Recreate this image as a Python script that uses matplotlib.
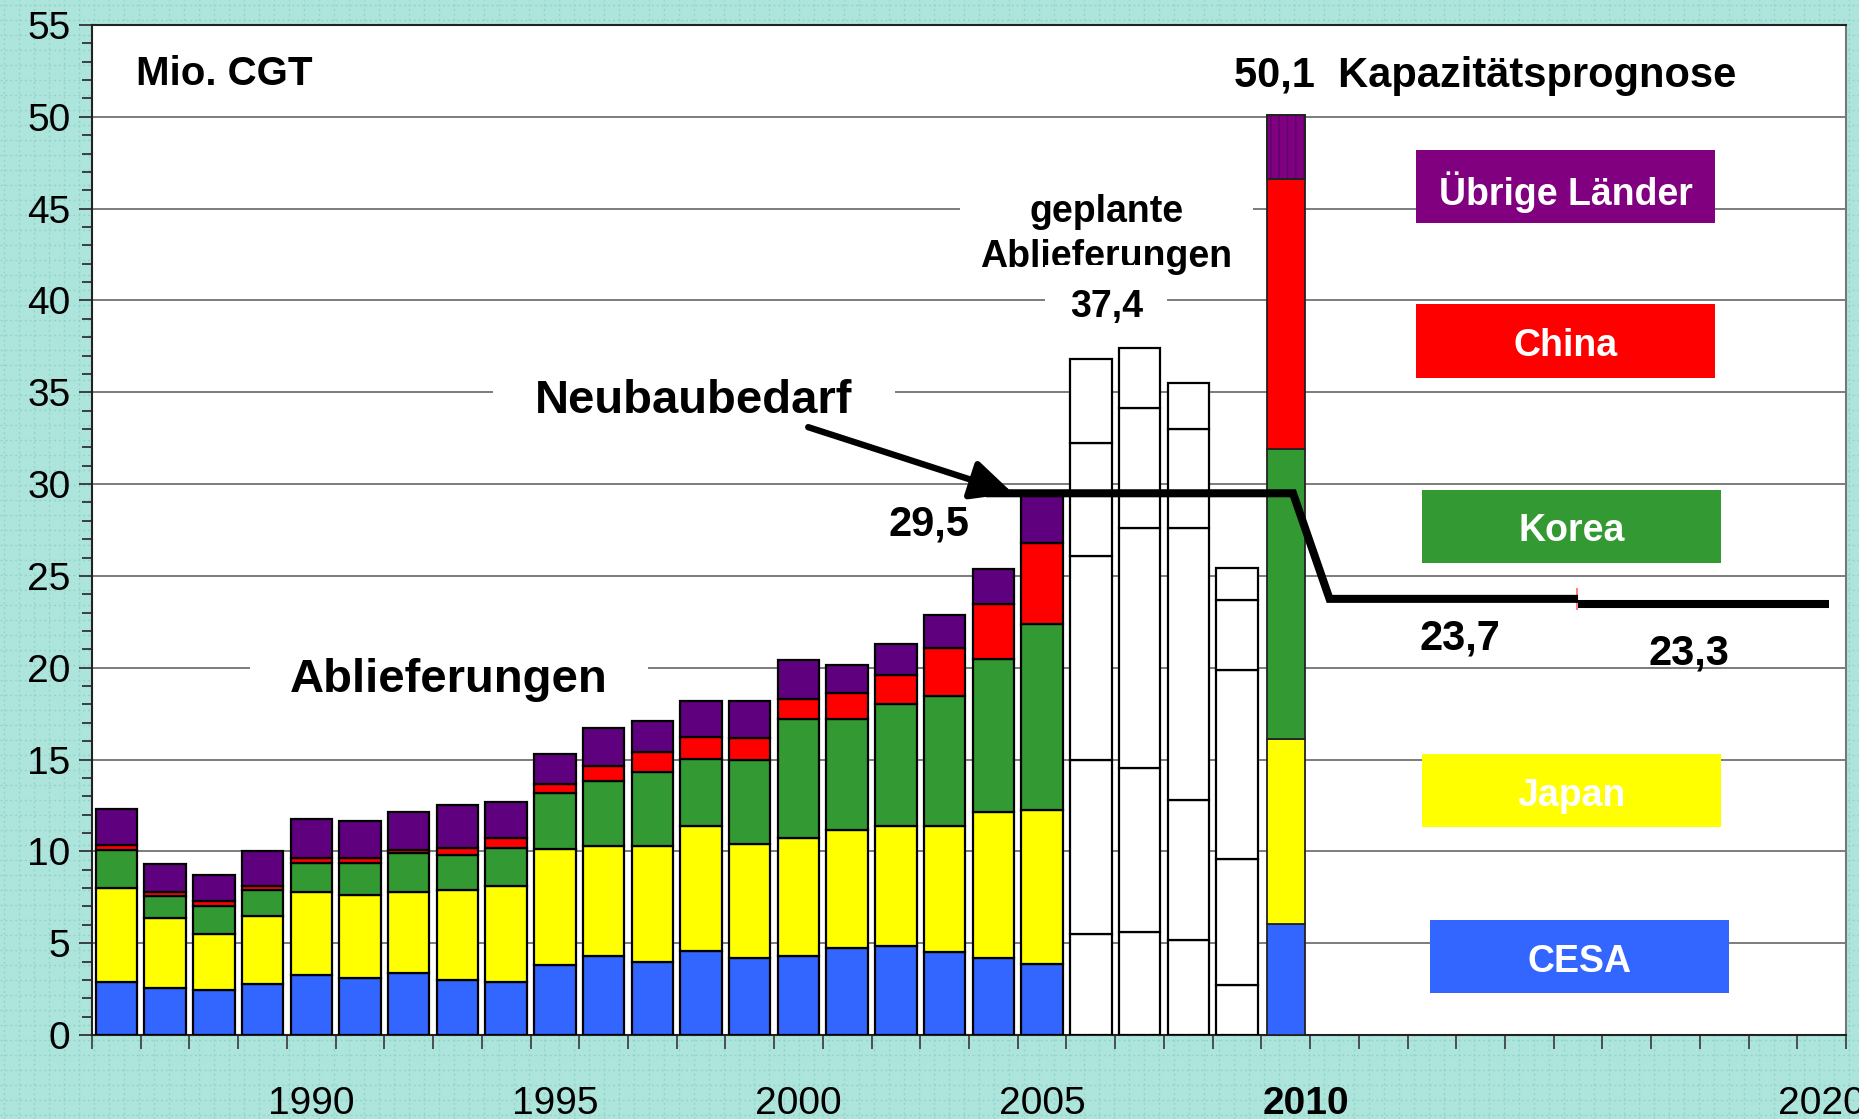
import matplotlib
matplotlib.use('Agg')
import matplotlib.pyplot as plt
from matplotlib.patches import Rectangle
from matplotlib.lines import Line2D
import numpy as np

plt.rcParams['font.family'] = ['Liberation Sans', 'DejaVu Sans']

# ---------------- data ----------------
years = list(range(1986, 2011))
cesa   = [2.9, 2.55, 2.45, 2.8, 3.25, 3.1, 3.35, 3.0, 2.9, 3.8, 4.3, 4.0, 4.6, 4.2, 4.3, 4.75, 4.85, 4.5, 4.2, 3.85,
          5.5, 5.6, 5.15, 2.7, 6.05]
japan  = [5.1, 3.8, 3.05, 3.7, 4.55, 4.5, 4.45, 4.9, 5.2, 6.35, 6.0, 6.3, 6.8, 6.2, 6.45, 6.4, 6.55, 6.9, 7.95, 8.4,
          9.5, 8.95, 7.65, 6.9, 10.05]
korea  = [2.1, 1.2, 1.55, 1.4, 1.55, 1.75, 2.1, 1.9, 2.1, 3.05, 3.55, 4.0, 3.65, 4.6, 6.45, 6.05, 6.65, 7.05, 8.3, 10.15,
          11.1, 13.05, 14.8, 10.25, 15.8]
china  = [0.25, 0.22, 0.22, 0.2, 0.3, 0.3, 0.2, 0.4, 0.55, 0.45, 0.8, 1.1, 1.2, 1.15, 1.1, 1.4, 1.55, 2.6, 3.0, 4.4,
          6.15, 6.55, 5.4, 3.85, 14.7]
others = [1.95, 1.55, 1.45, 1.9, 2.1, 2.0, 2.05, 2.3, 1.95, 1.65, 2.05, 1.7, 1.95, 2.05, 2.1, 1.55, 1.7, 1.8, 1.95, 2.7,
          4.55, 3.25, 2.5, 1.75, 3.5]
planned_years = [2006, 2007, 2008, 2009]
forecast_year = 2010

series_names = ['CESA', 'Japan', 'Korea', 'China', 'Übrige Länder']
hist_colors = ['#3366FF', '#FFFF00', '#339933', '#FF0000', '#5F007F']
fc_colors = ['#3366FF', '#FFFF00', '#339933', '#FF0000', '#800080']

# Neubaubedarf (new-building demand) line
need_x1 = [2003.85, 2010.15, 2010.9, 2016.0]
need_y1 = [29.5, 29.5, 23.75, 23.75]
need_x2 = [2016.0, 2021.15]
need_y2 = [23.45, 23.45]

year_labels = ['1990', '1995', '2000', '2005', '2010', '2020']
year_label_x = [1990, 1995, 2000, 2005, 2010.41, 2021.0]

# ---------------- figure ----------------
W, H = 1859, 1119
bg = '#ADE5DC'
fig = plt.figure(figsize=(W / 100, H / 100), dpi=100, facecolor=bg)

# background dotted grid pattern
for px in np.arange(4, W, 15):
    fig.add_artist(Line2D([px / W, px / W], [0, 1], transform=fig.transFigure,
                          color='#93D4CA', lw=1.0, ls=(0, (1.5, 2.0)), zorder=-10))
for py in np.arange(4, H, 15):
    fig.add_artist(Line2D([0, 1], [py / H, py / H], transform=fig.transFigure,
                          color='#93D4CA', lw=1.0, ls=(0, (1.5, 2.0)), zorder=-10))

ax = fig.add_axes([92 / W, 84 / H, (1846 - 92) / W, (1035 - 25) / H])
ax.set_facecolor('white')
ax.set_xlim(1985.5, 2021.5)
ax.set_ylim(0, 55)

# gridlines
ax.set_yticks(np.arange(0, 56, 5))
ax.set_yticks(np.arange(0, 56, 1), minor=True)
ax.yaxis.grid(True, which='major', color='#666666', lw=1.2, zorder=1)
ax.set_axisbelow(True)
ax.tick_params(axis='y', which='major', length=9.5, width=1.3, color='#333333',
               labelsize=28, pad=6)
ax.tick_params(axis='y', which='minor', length=7, width=1.3, color='#333333')
ax.set_xticks(np.arange(1985.5, 2021.6, 1))
ax.set_xticklabels([])
ax.tick_params(axis='x', which='major', length=10, width=1.3, color='#444444')

for s in ['left', 'bottom', 'top']:
    ax.spines[s].set_color('#222222')
    ax.spines[s].set_linewidth(1.5)
ax.spines['right'].set_color('#777777')
ax.spines['right'].set_linewidth(1.5)

# ---------------- bars ----------------
yrs = np.array(years)
data = np.array([cesa, japan, korea, china, others])
bottoms = np.vstack([np.zeros(len(years)), np.cumsum(data, axis=0)[:-1]])
hist = yrs < planned_years[0]
plan = np.isin(yrs, planned_years)
fc = yrs == forecast_year

for i in range(5):
    ax.bar(yrs[hist], data[i][hist], bottom=bottoms[i][hist], width=0.85,
           color=hist_colors[i], edgecolor='black', linewidth=1.6, zorder=3)
    ax.bar(yrs[plan], data[i][plan], bottom=bottoms[i][plan], width=0.85,
           color='white', edgecolor='black', linewidth=1.6, zorder=3)
    ax.bar(yrs[fc], data[i][fc], bottom=bottoms[i][fc], width=0.78,
           color=fc_colors[i], edgecolor='#222222', linewidth=1.3, zorder=3)
# striped top segment of forecast bar
ax.bar(yrs[fc], data[4][fc], bottom=bottoms[4][fc], width=0.78,
       facecolor='none', edgecolor='#5A0070', hatch='||', linewidth=0, zorder=3.1)
ax.bar(yrs[fc], data[4][fc], bottom=bottoms[4][fc], width=0.78,
       facecolor='none', edgecolor='#222222', linewidth=1.3, zorder=3.2)

# ---------------- demand line ----------------
ax.plot([need_x1[-1] - 0.02, need_x1[-1] - 0.02], [23.2, 24.3], color='#FF8080', lw=1.5, zorder=4.5)
ax.plot(need_x1, need_y1, color='black', lw=5.8, solid_joinstyle='miter', solid_capstyle='butt', zorder=5)
ax.plot(need_x2, need_y2, color='black', lw=5.8, solid_capstyle='butt', zorder=5)
ax.annotate('', xy=(2004.4, need_y1[0]), xytext=(2000.2, 33.1),
            arrowprops=dict(arrowstyle='-|>,head_length=1.15,head_width=0.55', mutation_scale=22,
                            lw=4.6, color='black', shrinkA=0, shrinkB=0),
            zorder=6)

# ---------------- legend boxes ----------------
legend_boxes = [
    ('Übrige Länder', '#800080', 2012.68, 44.2, 2018.82, 48.2),
    ('China', '#FF0000', 2012.68, 35.8, 2018.82, 39.8),
    ('Korea', '#339933', 2012.80, 25.7, 2018.94, 29.7),
    ('Japan', '#FFFF00', 2012.80, 11.3, 2018.94, 15.3),
    ('CESA', '#3366FF', 2012.97, 2.3, 2019.09, 6.25),
]
for lab, col, x0, y0, x1, y1 in legend_boxes:
    ax.add_patch(Rectangle((x0, y0), x1 - x0, y1 - y0, facecolor=col, edgecolor='none', zorder=4))
    ax.text((x0 + x1) / 2, (y0 + y1) / 2 - 0.28, lab, color='white', fontsize=27, fontweight='bold',
            ha='center', va='center', zorder=4.5)

# ---------------- annotation texts ----------------
bold = dict(fontweight='bold', color='black')
ax.text(1986.4, 52.35, 'Mio. CGT', fontsize=29, ha='left', va='center', **bold)
ax.text(2008.93, 52.2, '50,1  Kapazitätsprognose', fontsize=30, ha='left', va='center', **bold)
ax.text(2006.32, 43.6, 'geplante\nAblieferungen', fontsize=27, ha='center', va='center',
        linespacing=1.3, zorder=2,
        bbox=dict(boxstyle='square,pad=0.55', facecolor='white', edgecolor='none'), **bold)
ax.text(2006.32, 39.65, '37,4', fontsize=27, ha='center', va='center', zorder=2,
        bbox=dict(boxstyle='square,pad=0.65', facecolor='white', edgecolor='none'), **bold)
ax.text(1997.85, 34.55, 'Neubaubedarf', fontsize=34, ha='center', va='center', zorder=2,
        bbox=dict(boxstyle='square,pad=0.9', facecolor='white', edgecolor='none'), **bold)
ax.text(1992.83, 19.35, 'Ablieferungen', fontsize=34, ha='center', va='center', zorder=2,
        bbox=dict(boxstyle='square,pad=0.85', facecolor='white', edgecolor='none'), **bold)
ax.text(2002.67, 27.8, '29,5', fontsize=30, ha='center', va='center', zorder=6, **bold)
ax.text(2013.58, 21.6, '23,7', fontsize=30, ha='center', va='center', zorder=6, **bold)
ax.text(2018.28, 20.8, '23,3', fontsize=30, ha='center', va='center', zorder=6, **bold)

# year labels
for lab, xv in zip(year_labels, year_label_x):
    ax.text(xv, -3.75, lab, fontsize=28, ha='center', va='center', clip_on=False,
            fontweight='bold' if lab == '2010' else 'normal')

fig.savefig('out.png', dpi=100, facecolor=bg)
